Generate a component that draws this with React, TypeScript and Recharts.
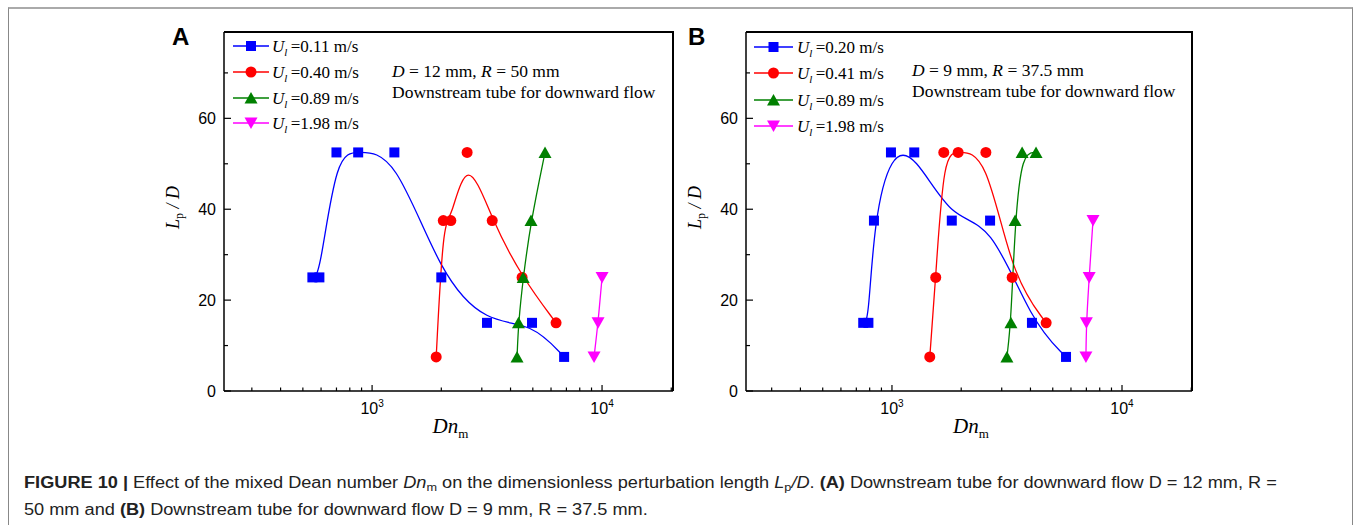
import React from "react";
import { LineChart, Line, XAxis, YAxis, Legend } from "recharts";

// Panel A: D = 12 mm, R = 50 mm
const ulA = ["0.11", "0.40", "0.89", "1.98"];
const dnA_011 = [550, 590, 700, 870, 1250, 2000, 3160, 4960, 6840];
const lpA_011 = [25, 25, 52.5, 52.5, 52.5, 25, 15, 15, 7.5];
const dnA_040 = [1900, 2040, 2200, 2590, 3330, 4490, 6310];
const lpA_040 = [7.5, 37.5, 37.5, 52.5, 37.5, 25, 15];
const dnA_089 = [4270, 4330, 4540, 4910, 5650];
const lpA_089 = [7.5, 15, 25, 37.5, 52.5];
const dnA_198 = [9230, 9610, 10000];
const lpA_198 = [7.5, 15, 25];

// Panel B: D = 9 mm, R = 37.5 mm
const ulB = ["0.20", "0.41", "0.89", "1.98"];
const dnB_020 = [750, 790, 835, 990, 1250, 1820, 2670, 4060, 5710];
const lpB_020 = [15, 15, 37.5, 52.5, 52.5, 37.5, 37.5, 15, 7.5];
const dnB_041 = [1460, 1550, 1680, 1940, 2560, 3330, 4680];
const lpB_041 = [7.5, 25, 52.5, 52.5, 52.5, 25, 15];
const dnB_089 = [3160, 3290, 3430, 3680, 4230];
const lpB_089 = [7.5, 15, 37.5, 52.5, 52.5];
const dnB_198 = [6970, 7000, 7200, 7480];
const lpB_198 = [7.5, 15, 25, 37.5];

const xTicks = [300, 400, 500, 600, 700, 800, 900, 1000, 2000, 3000, 4000, 5000, 6000, 7000, 8000, 9000, 10000, 20000];
const yTicks = [0, 10, 20, 30, 40, 50, 60, 70];
const yMax = 79;

const serif = "'Liberation Serif', 'Times New Roman', serif";
const sans = "'Liberation Sans', Arial, sans-serif";

const colors = ["#0000ff", "#ff0000", "#008000", "#ff00ff"];
const shapes = ["square", "circle", "up", "down"];

// plot area offsets inside each panel
const H = 440;
const M_TOP = 17;
const M_RIGHT = 17;
const Y_W = 74;
const X_H = 64;

const toRows = (dn: number[], lp: number[]) => dn.map((d, i) => ({ dn: d, lp: lp[i] }));

const seriesA = [
  toRows(dnA_011, lpA_011),
  toRows(dnA_040, lpA_040),
  toRows(dnA_089, lpA_089),
  toRows(dnA_198, lpA_198),
];
const seriesB = [
  toRows(dnB_020, lpB_020),
  toRows(dnB_041, lpB_041),
  toRows(dnB_089, lpB_089),
  toRows(dnB_198, lpB_198),
];

const Marker = ({ shape, cx, cy, color }: any) => {
  if (shape === "square") return <rect x={cx - 5} y={cy - 5} width={10} height={10} fill={color} />;
  if (shape === "circle") return <circle cx={cx} cy={cy} r={5.5} fill={color} />;
  if (shape === "up")
    return <polygon points={`${cx},${cy - 6} ${cx + 6.5},${cy + 5.5} ${cx - 6.5},${cy + 5.5}`} fill={color} />;
  return <polygon points={`${cx},${cy + 6} ${cx + 6.5},${cy - 5.5} ${cx - 6.5},${cy - 5.5}`} fill={color} />;
};

const renderXTick = (p: any) => {
  const { x, y, payload } = p;
  const ay = y - 17;
  const v = payload.value;
  const major = v === 1000 || v === 10000;
  return (
    <g>
      <line x1={x} x2={x} y1={ay} y2={ay - (major ? 6 : 3.5)} stroke="#000" strokeWidth={1.2} />
      {major && (
        <text x={x} y={y} dy="0.35em" textAnchor="middle" fontFamily={sans} fontSize={16} fill="#000">
          <tspan>10</tspan>
          <tspan fontSize={10} dy={-7}>{v === 1000 ? "3" : "4"}</tspan>
        </text>
      )}
    </g>
  );
};

const renderYTick = (p: any) => {
  const { x, y, payload } = p;
  const ax = x + 8;
  const major = payload.value % 20 === 0;
  return (
    <g>
      <line x1={ax} x2={ax + (major ? 7 : 4)} y1={y} y2={y} stroke="#000" strokeWidth={1.2} />
      {major && (
        <text x={x} y={y} dy="0.35em" textAnchor="end" fontFamily={sans} fontSize={16} fill="#000">
          {payload.value}
        </text>
      )}
    </g>
  );
};

const XTitle = (props: any) => {
  const vb = props.viewBox;
  const x = vb.x + vb.width / 2 + 2;
  const y = vb.y + 42;
  return (
    <text x={x} y={y} textAnchor="middle" fontFamily={serif} fontSize={21} fill="#000">
      <tspan fontStyle="italic">Dn</tspan>
      <tspan fontSize={13} dy={5}>m</tspan>
    </text>
  );
};

const YTitle = (props: any) => {
  const vb = props.viewBox;
  const x = vb.x + 29;
  const y = vb.y + vb.height / 2 - 4;
  return (
    <text x={x} y={y} transform={`rotate(-90, ${x}, ${y})`} textAnchor="middle" fontFamily={serif} fontSize={18} fill="#000">
      <tspan fontStyle="italic">L</tspan>
      <tspan fontSize={12} dy={4}>p</tspan>
      <tspan fontStyle="italic" dy={-4}>{" / D"}</tspan>
    </text>
  );
};

const LegendBox = ({ labels, rows, lineX, textX }: any) => (
  <svg width={320} height={140} style={{ display: "block" }}>
    {labels.map((lab: string, i: number) => {
      const y = rows[i];
      const mx = (lineX[0] + lineX[1]) / 2;
      return (
        <g key={lab + i}>
          <line x1={lineX[0]} x2={lineX[1]} y1={y} y2={y} stroke={colors[i]} strokeWidth={1.5} />
          <Marker shape={shapes[i]} cx={mx} cy={y} color={colors[i]} />
          <text x={textX} y={y + 5.5} fontFamily={serif} fontSize={17} fill="#000">
            <tspan fontStyle="italic">U</tspan>
            <tspan fontStyle="italic" fontSize={11} dy={4}>l</tspan>
            <tspan dy={-4}>{"\u2009=" + lab + " m/s"}</tspan>
          </text>
        </g>
      );
    })}
  </svg>
);

const Panel = ({ left, width, letter, letterX, data, labels, xDomain, note, noteX, noteY, rows, lineX, textX }: any) => {
  const plotRight = width - M_RIGHT;
  const plotBottom = H - X_H;
  return (
    <div style={{ position: "absolute", left, top: 15, width, height: H }}>
      <LineChart width={width} height={H} margin={{ top: M_TOP, right: M_RIGHT, bottom: 0, left: 0 }}>
        <XAxis
          dataKey="dn"
          type="number"
          scale="log"
          domain={xDomain}
          allowDataOverflow
          ticks={xTicks}
          interval={0}
          tickSize={0}
          tickMargin={17}
          tickLine={false}
          tick={renderXTick}
          height={X_H}
          axisLine={{ stroke: "#000", strokeWidth: 1.5 }}
          label={XTitle}
        />
        <YAxis
          type="number"
          domain={[0, yMax]}
          allowDataOverflow
          ticks={yTicks}
          interval={0}
          tickSize={0}
          tickMargin={8}
          tickLine={false}
          tick={renderYTick}
          width={Y_W}
          axisLine={{ stroke: "#000", strokeWidth: 1.5 }}
          label={YTitle}
        />
        <Legend
          layout="horizontal"
          verticalAlign="middle"
          align="center"
          wrapperStyle={{ left: 0, top: 0, width: 320, height: 140 }}
          content={() => <LegendBox labels={labels} rows={rows} lineX={lineX} textX={textX} />}
        />
        {data.map((rowsData: any[], i: number) => (
          <Line
            key={labels[i] + i}
            data={rowsData}
            dataKey="lp"
            type="basis"
            stroke={colors[i]}
            strokeWidth={1.3}
            dot={(p: any) => <Marker key={`m-${i}-${p.index}`} shape={shapes[i]} cx={p.cx} cy={p.cy} color={colors[i]} />}
            activeDot={false}
            isAnimationActive={false}
          />
        ))}
      </LineChart>
      {/* top and right sides of the plot frame */}
      <div
        style={{
          position: "absolute",
          left: Y_W,
          top: M_TOP - 1,
          width: plotRight - Y_W + 1,
          height: plotBottom - M_TOP + 1,
          boxSizing: "border-box",
          borderTop: "2px solid #000",
          borderRight: "2px solid #000",
          pointerEvents: "none",
        }}
      />
      <svg width={width} height={H} style={{ position: "absolute", left: 0, top: 0, pointerEvents: "none" }}>
        <text x={letterX} y={30} fontFamily={sans} fontWeight="bold" fontSize={24} fill="#000">
          {letter}
        </text>
        <text x={noteX} y={noteY[0]} fontFamily={serif} fontSize={17.5} fill="#000">
          <tspan fontStyle="italic">D</tspan>
          {note[0]}
          <tspan fontStyle="italic">R</tspan>
          {note[1]}
        </text>
        <text x={noteX} y={noteY[1]} fontFamily={serif} fontSize={17.5} fill="#000">
          Downstream tube for downward flow
        </text>
      </svg>
    </div>
  );
};

const sub = { fontSize: "0.7em", position: "relative" as const, top: "0.3em" };

export default function App() {
  return (
    <div style={{ position: "fixed", left: 0, top: 0, width: 1356, height: 525, overflow: "hidden", background: "#fff" }}>
      <div
        style={{
          position: "absolute",
          left: 8,
          top: 7,
          width: 1345,
          height: 530,
          boxSizing: "border-box",
          borderTop: "2px solid #aaa",
          borderLeft: "1px solid #888",
          borderRight: "1px solid #888",
        }}
      />
      <Panel
        left={150}
        width={540}
        letter="A"
        letterX={22}
        data={seriesA}
        labels={ulA}
        xDomain={[227, 20350]}
        note={[" = 12 mm, ", " = 50 mm"]}
        noteX={242}
        noteY={[62, 83]}
        rows={[31, 57, 83, 108]}
        lineX={[83, 119]}
        textX={122}
      />
      <Panel
        left={672}
        width={537}
        letter="B"
        letterX={16}
        data={seriesB}
        labels={ulB}
        xDomain={[232, 20150]}
        note={[" = 9 mm, ", " = 37.5 mm"]}
        noteX={240}
        noteY={[61, 82]}
        rows={[32, 58, 85, 111]}
        lineX={[82, 121]}
        textX={125}
      />
      <div
        style={{
          position: "absolute",
          left: 24,
          top: 470,
          fontFamily: sans,
          fontSize: 16,
          lineHeight: "26px",
          color: "#222",
          whiteSpace: "nowrap",
          transform: "scaleX(1.135)",
          transformOrigin: "0 0",
        }}
      >
        <b>FIGURE 10 |</b> Effect of the mixed Dean number <i>Dn</i>
        <span style={sub}>m</span> on the dimensionless perturbation length <i>L</i>
        <span style={sub}>p</span>
        <i>/D</i>. <b>(A)</b> Downstream tube for downward flow D = 12 mm, R =
        <br />
        50 mm and <b>(B)</b> Downstream tube for downward flow D = 9 mm, R = 37.5 mm.
      </div>
    </div>
  );
}
